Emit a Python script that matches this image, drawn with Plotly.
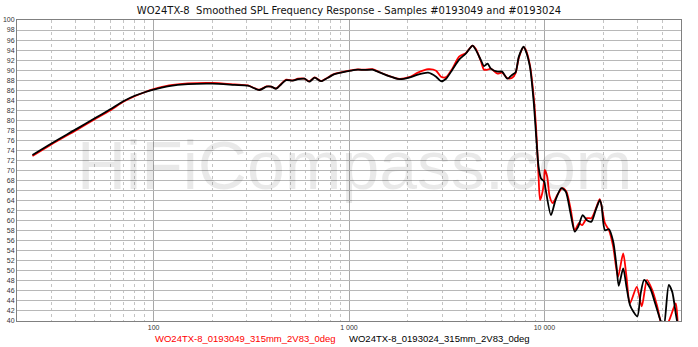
import numpy as np
import plotly.graph_objects as go

# ---- data ----
black_f = [24, 30, 40, 50, 60, 70, 80, 90, 100, 120, 150, 200, 260, 304, 348, 378, 400, 424, 450, 477,
           516, 548, 591, 626, 668, 720, 780, 843, 910, 1023, 1110, 1200, 1320, 1404, 1575, 1810, 2030,
           2250, 2540, 2790, 2955, 3140, 3380, 3660, 3960, 4290, 4460, 4730, 4910, 5120, 5320, 5750,
           6080, 6460, 6850, 7120, 7400, 7820, 8000, 8430, 8800, 9080, 9330, 9610, 9970, 10120, 10800,
           11400, 12200, 12850, 13600, 14300, 14900, 15700, 16500, 17400, 18300, 19200, 19600, 20400,
           21400, 22500, 23400, 24000, 25300, 26300, 27400, 28500, 29900, 31100, 32400, 34800, 36900,
           39200, 40800, 43300, 45100, 47000, 48300, 50000]
black_db = [73.1, 75.4, 78.2, 80.4, 82.2, 83.8, 84.9, 85.6, 86.1, 86.8, 87.2, 87.3, 87.05, 86.9, 86.05,
            86.7, 86.7, 86.3, 87.2, 88.0, 87.9, 88.2, 88.3, 87.7, 88.5, 87.8, 88.5, 89.2, 89.5, 89.9,
            90.1, 90.05, 90.1, 89.7, 88.9, 88.2, 88.5, 89.1, 89.5, 88.7, 87.8, 88.3, 90.1, 92.1, 93.3,
            94.9, 94.0, 92.0, 90.8, 91.3, 90.3, 89.7, 89.7, 88.3, 89.1, 89.6, 92.7, 94.7, 94.0, 90.7,
            84.0, 76.7, 70.8, 68.4, 67.8, 66.5, 61.1, 64.1, 66.5, 65.8, 61.5, 57.8, 58.8, 61.1, 60.1,
            59.8, 62.1, 64.1, 63.1, 58.1, 58.3, 55.8, 50.8, 47.0, 50.5, 46.8, 43.2, 41.9, 40.9, 45.5,
            48.2, 46.5, 43.5, 40.2, 38.9, 47.2, 45.8, 41.5, 38.9, 36.0]

red_f = [24, 30, 40, 50, 60, 70, 80, 90, 100, 120, 150, 200, 260, 304, 348, 378, 400, 424, 450, 477,
         516, 548, 591, 626, 668, 720, 780, 843, 910, 1023, 1110, 1200, 1320, 1404, 1575, 1810, 2030,
         2250, 2540, 2790, 2955, 3140, 3380, 3660, 3960, 4290, 4460, 4730, 4910, 5120, 5320, 5750,
         6080, 6460, 6850, 7120, 7400, 7820, 8000, 8430, 8800, 9080, 9330, 9500, 9740, 9970, 10040,
         10330, 10640, 11030, 11630, 12350, 12950, 13650, 14300, 15030, 15600, 16500, 17400, 18500,
         19200, 20400, 21400, 22500, 23800, 25300, 26300, 27400, 29700, 31500, 33500, 35600, 37800,
         40200, 42700, 47000, 48300, 50000]
red_db = [72.9, 75.2, 78.0, 80.2, 82.0, 83.7, 84.8, 85.6, 86.2, 86.95, 87.35, 87.45, 87.15, 86.95, 86.1,
          86.75, 86.7, 86.35, 87.25, 88.1, 87.95, 88.3, 88.3, 87.75, 88.55, 87.85, 88.55, 89.25, 89.55,
          89.95, 90.15, 90.1, 90.2, 89.75, 88.95, 88.25, 88.6, 89.5, 90.2, 89.9, 88.7, 88.6, 90.3, 92.7,
          93.4, 94.9, 94.2, 91.8, 90.1, 90.1, 90.3, 89.3, 89.5, 88.4, 88.5, 89.4, 92.5, 94.6, 94.2, 91.0,
          85.0, 78.0, 69.0, 64.1, 65.4, 68.1, 70.1, 68.8, 64.8, 63.5, 65.1, 66.5, 65.8, 62.1, 58.1, 59.5,
          59.1, 60.5, 60.5, 62.8, 64.3, 59.5, 58.1, 54.8, 48.8, 53.5, 48.8, 43.5, 46.8, 42.9, 48.2, 46.2,
          42.9, 38.9, 39.5, 43.5, 38.9, 36.0]

x_major = [100, 1000, 10000]
x_major_text = ["100", "1 000", "10 000"]
x_minor = [30, 40, 50, 60, 70, 80, 90, 200, 300, 400, 500, 600, 700, 800, 900,
           2000, 3000, 4000, 5000, 6000, 7000, 8000, 9000, 20000, 30000, 40000]
y_ticks = list(range(40, 101, 2))

title_text = "WO24TX-8  Smoothed SPL Frequency Response - Samples #0193049 and #0193024"
red_name = "WO24TX-8_0193049_315mm_2V83_0deg"
black_name = "WO24TX-8_0193024_315mm_2V83_0deg"

fig = go.Figure()
fig.add_trace(go.Scatter(x=red_f, y=red_db, mode="lines", name=red_name,
                         line=dict(color="#ff0000", width=1.8, shape="spline", smoothing=0.7)))
fig.add_trace(go.Scatter(x=black_f, y=black_db, mode="lines", name=black_name,
                         line=dict(color="#000000", width=1.8, shape="spline", smoothing=0.7)))

W, H = 698, 347
L, R, T, B = 17, 17, 20, 26

fig.update_layout(
    width=W, height=H, margin=dict(l=L, r=R, t=T, b=B, autoexpand=False),
    paper_bgcolor="white", plot_bgcolor="white", showlegend=False,
    font=dict(family="Liberation Sans, Arial, sans-serif", color="#333333"),
    title=dict(text=title_text, x=0.5, xanchor="center", y=1 - 10 / H, yanchor="middle",
               font=dict(family="DejaVu Sans, Verdana, sans-serif", size=10, color="#111111")),
    xaxis=dict(type="log", range=[np.log10(20), np.log10(50000)], automargin=False,
               tickmode="array", tickvals=x_major, ticktext=x_major_text,
               showgrid=True, gridcolor="#a8a8a8", gridwidth=1,
               minor=dict(tickmode="array", tickvals=x_minor, showgrid=True,
                          gridcolor="#c4c4c4", griddash="dot", gridwidth=1),
               showline=True, mirror=True, linecolor="#808080", linewidth=1,
               zeroline=False, ticks="", tickfont=dict(size=7, color="#333333")),
    yaxis=dict(range=[40, 100], tickmode="array", tickvals=y_ticks, automargin=False,
               showgrid=True, gridcolor="#b8b8b8", gridwidth=1,
               showline=True, mirror=True, linecolor="#808080", linewidth=1,
               zeroline=False, ticks="", ticklen=0, tickfont=dict(size=7, color="#333333")),
)

pw = W - L - R
ph = H - T - B

def px_x(x):
    return (x - L) / pw

def px_y(y):
    return (H - B - y) / ph

fig.add_annotation(text="HiFiCompass.com", xref="paper", yref="paper", x=px_x(354), y=px_y(165),
                   xanchor="center", yanchor="middle", showarrow=False,
                   font=dict(family="Liberation Sans, Arial, sans-serif", size=68,
                             color="rgba(0,0,0,0.085)"))
fig.add_annotation(text=red_name, xref="paper", yref="paper", x=px_x(338), y=px_y(338),
                   xanchor="right", yanchor="middle", showarrow=False,
                   font=dict(family="Liberation Sans, Arial, sans-serif", size=9.5, color="#ff0000"))
fig.add_annotation(text=black_name, xref="paper", yref="paper", x=px_x(347), y=px_y(338),
                   xanchor="left", yanchor="middle", showarrow=False,
                   font=dict(family="Liberation Sans, Arial, sans-serif", size=9.5, color="#000000"))

fig.write_html("out.html")
